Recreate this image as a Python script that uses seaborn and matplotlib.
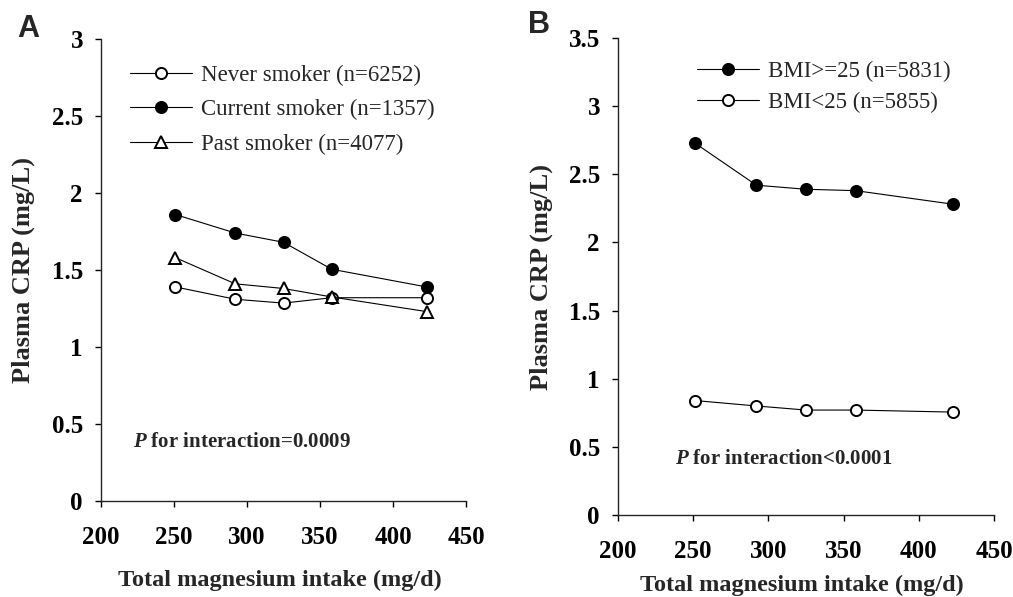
import matplotlib
matplotlib.use("Agg")
import matplotlib.pyplot as plt
import seaborn as sns
from matplotlib.ticker import FuncFormatter

## Data

mg_intake = [251, 292, 325, 358, 423]

never_smoker = [1.39, 1.31, 1.285, 1.32, 1.32]
current_smoker = [1.86, 1.74, 1.68, 1.505, 1.39]
past_smoker = [1.58, 1.41, 1.38, 1.325, 1.23]

bmi_high = [2.73, 2.42, 2.39, 2.38, 2.28]
bmi_low = [0.84, 0.80, 0.77, 0.77, 0.755]

x_ticks = [200, 250, 300, 350, 400, 450]
a_y_ticks = [0, 0.5, 1, 1.5, 2, 2.5, 3]
b_y_ticks = [0, 0.5, 1, 1.5, 2, 2.5, 3, 3.5]

## Style

sns.set_style("ticks")
plt.rcParams["font.family"] = ["Liberation Serif", "DejaVu Serif"]
plt.rcParams["mathtext.fontset"] = "custom"
plt.rcParams["mathtext.it"] = "Liberation Serif:italic:bold"
plt.rcParams["mathtext.bf"] = "Liberation Serif:bold"
plt.rcParams["mathtext.rm"] = "Liberation Serif"

fig = plt.figure(figsize=(10.13, 5.97), dpi=100)
W, H = 1013, 597
axA = fig.add_axes([101 / W, 1 - 501 / H, (466 - 101) / W, (501 - 39) / H])
axB = fig.add_axes([618 / W, 1 - 515 / H, (994 - 618) / W, (515 - 38) / H])

line_kw = dict(color="black", linewidth=0.8, markersize=8,
               markeredgecolor="black", markeredgewidth=1.4)

# Panel A
sns.lineplot(x=mg_intake, y=never_smoker, ax=axA, marker="o",
             markerfacecolor="white", label="Never smoker (n=6252)", **line_kw)
sns.lineplot(x=mg_intake, y=current_smoker, ax=axA, marker="o",
             markerfacecolor="black", label="Current smoker (n=1357)", **line_kw)
sns.lineplot(x=mg_intake, y=past_smoker, ax=axA, marker="^",
             markerfacecolor="white", label="Past smoker (n=4077)", **line_kw)

# Panel B
sns.lineplot(x=mg_intake, y=bmi_high, ax=axB, marker="o",
             markerfacecolor="black", label="BMI>=25 (n=5831)", **line_kw)
sns.lineplot(x=mg_intake, y=bmi_low, ax=axB, marker="o",
             markerfacecolor="white", label="BMI<25 (n=5855)", **line_kw)

fmt = FuncFormatter(lambda v, p: "%g" % v)

for ax, yt, ymax in [(axA, a_y_ticks, 3), (axB, b_y_ticks, 3.5)]:
    ax.set_xlim(200, 450)
    ax.set_ylim(0, ymax)
    ax.set_xticks(x_ticks)
    ax.set_yticks(yt)
    ax.yaxis.set_major_formatter(fmt)
    for s in ["top", "right"]:
        ax.spines[s].set_visible(False)
    ax.spines["left"].set_linewidth(1.0)
    ax.spines["bottom"].set_linewidth(1.0)
    ax.tick_params(axis="both", direction="out", length=4, width=1.0,
                   labelsize=18, colors="black")
    ax.tick_params(axis="y", pad=9)
    ax.tick_params(axis="x", pad=14)
    for lab in ax.get_xticklabels() + ax.get_yticklabels():
        lab.set_fontweight("bold")
    ax.set_xlabel("Total magnesium intake (mg/d)", fontsize=17.5,
                  fontweight="bold")
    ax.set_ylabel("Plasma CRP (mg/L)", fontsize=19, fontweight="bold")

axA.xaxis.set_label_coords(0.49, -69 / 462)
axB.xaxis.set_label_coords(0.49, -60 / 477)
axA.yaxis.set_label_coords(-(101 - 35) / 365, 0.5)
axB.yaxis.set_label_coords(-(618 - 553) / 376, 0.5)

axA.legend(loc="upper left", bbox_to_anchor=(0.08, 0.945), frameon=False,
           fontsize=16.5, handlelength=2.7, handletextpad=0.4,
           labelspacing=0.6, borderpad=0, borderaxespad=0)
axB.legend(loc="upper left", bbox_to_anchor=(0.21, 0.953), frameon=False,
           fontsize=16.5, handlelength=2.7, handletextpad=0.4,
           labelspacing=0.45, borderpad=0, borderaxespad=0)

axA.text(222, 0.38, r"$\mathit{P}$ for interaction=0.0009", fontsize=15,
         fontweight="bold", va="center")
axB.text(238, 0.41, r"$\mathit{P}$ for interaction<0.0001", fontsize=15,
         fontweight="bold", va="center")

fig.text(17 / W, 1 - 29 / H, "A", fontsize=22, fontweight="bold",
         family="Liberation Sans", va="center", ha="left")
fig.text(528 / W, 1 - 25 / H, "B", fontsize=22, fontweight="bold",
         family="Liberation Sans", va="center", ha="left")

fig.savefig("out.png", dpi=100)
